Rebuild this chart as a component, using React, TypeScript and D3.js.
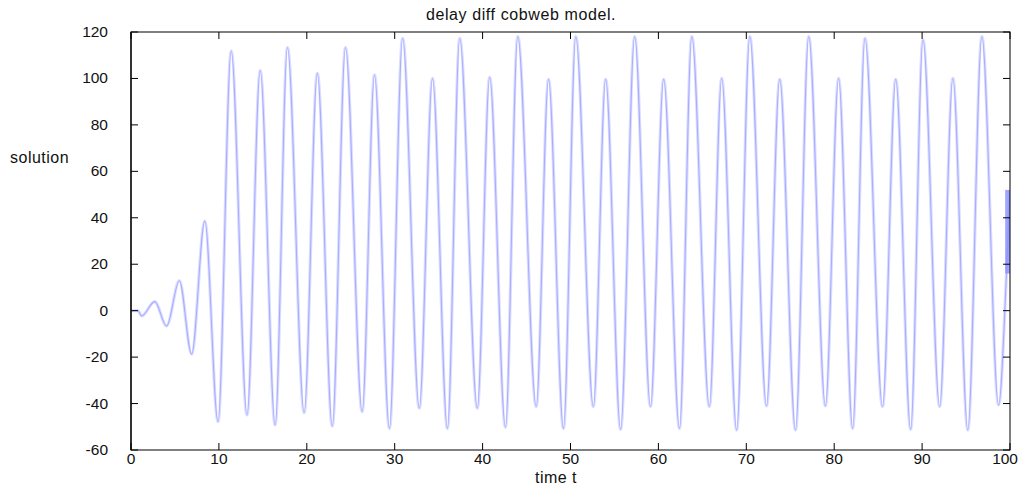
import * as d3 from "d3"

// extrema of the solution curve (time, value)
const times = [
  0, 0.8, 1.2, 2.7, 4.05, 5.5, 6.9, 8.4, 9.9, 11.4, 13.2, 14.7, 16.4, 17.8, 19.7, 21.2, 22.9, 24.4,
  26.3, 27.7, 29.4, 30.9, 32.8, 34.3, 36.0, 37.4, 39.4, 40.8, 42.6, 44.0, 46.1, 47.5, 49.2, 50.6,
  52.6, 54.0, 55.7, 57.3, 59.1, 60.6, 62.4, 63.8, 65.8, 67.2, 68.9, 70.4, 72.3, 73.8, 75.6, 77.1,
  79.0, 80.5, 82.1, 83.5, 85.5, 87.0, 88.7, 90.1, 92.0, 93.5, 95.2, 96.8, 98.7, 99.6, 100,
]
const values = [
  0, 0, -2.3, 3.9, -6.6, 12.9, -18.7, 38.6, -47.8, 111.8, -44.9, 103.4, -49.2, 113.3, -43.9, 102.2,
  -49.7, 113.3, -43.5, 101.5, -50.7, 117.3, -42, 100, -50.7, 117.3, -42, 100.5, -50.2, 118, -41.3,
  99.6, -50.7, 118, -41.3, 99.6, -51.1, 118, -41.3, 99.6, -50.7, 118, -41.3, 100, -51.4, 118, -41,
  99.6, -51.4, 118, -41, 100, -50.7, 117.3, -41.3, 99.6, -51.1, 116.6, -41.3, 100, -51.4, 118,
  -40.6, 16, 52,
]
const endBand = { t0: 99.45, t1: 100, lo: 16, hi: 52 }

const xTicks = [0, 10, 20, 30, 40, 50, 60, 70, 80, 90, 100]
const yTicks = [-60, -40, -20, 0, 20, 40, 60, 80, 100, 120]

const title = "delay diff cobweb model."
const xLabel = "time t"
const yLabel = "solution"

export default function App() {
  const W = 1019
  const H = 488
  const left = 131
  const right = 1010
  const top = 32
  const bottom = 450
  const font = "Liberation Sans, Arial, sans-serif"

  const x = d3.scaleLinear().domain([0, 100]).range([left, right])
  const y = d3.scaleLinear().domain([-60, 120]).range([bottom, top])

  const pts = times.map((t, i) => [t, values[i]] as [number, number])
  const line = d3
    .line<[number, number]>()
    .x((d) => x(d[0]))
    .y((d) => y(d[1]))
    .curve(d3.curveMonotoneX)

  const tick = 7

  return (
    <svg
      width={W}
      height={H}
      style={{ position: "absolute", left: 0, top: 0, background: "#fff" }}
      fontFamily={font}
    >
      <text x={521} y={20} fontSize={16} letterSpacing={0.6} textAnchor="middle" fill="#111">
        {title}
      </text>

      <defs>
        <clipPath id="plot">
          <rect x={left} y={top} width={right - left} height={bottom - top} />
        </clipPath>
      </defs>

      <g clipPath="url(#plot)">
        <path d={line(pts) || ""} fill="none" stroke="#dcdeff" strokeWidth={3.2} />
        <path d={line(pts) || ""} fill="none" stroke="#a9adff" strokeWidth={1.1} />
        <rect
          x={x(endBand.t0)}
          y={y(endBand.hi)}
          width={x(endBand.t1) - x(endBand.t0)}
          height={y(endBand.lo) - y(endBand.hi)}
          fill="#8a8fff"
          opacity={0.8}
        />
      </g>

      <rect x={left} y={top} width={right - left} height={bottom - top} fill="none" stroke="#000" strokeWidth={1} />
      <line x1={left} x2={left} y1={top} y2={bottom} stroke="#333" strokeWidth={2} />

      {xTicks.map((t, i) => (
        <g key={"x" + t}>
          <line x1={x(t)} x2={x(t)} y1={bottom} y2={bottom - tick} stroke="#000" />
          <line x1={x(t)} x2={x(t)} y1={top} y2={top + tick} stroke="#000" />
          <text
            x={i === xTicks.length - 1 ? W - 1 : x(t)}
            y={464}
            fontSize={15.5}
            textAnchor={i === xTicks.length - 1 ? "end" : "middle"}
            fill="#111"
          >
            {t}
          </text>
        </g>
      ))}

      {yTicks.map((v) => (
        <g key={"y" + v}>
          <line x1={left} x2={left + tick} y1={y(v)} y2={y(v)} stroke="#000" />
          <line x1={right} x2={right - tick} y1={y(v)} y2={y(v)} stroke="#000" />
          <text x={108} y={y(v) + 5} fontSize={15.5} textAnchor="end" fill="#111">
            {v}
          </text>
        </g>
      ))}

      <text x={556} y={483} fontSize={16} letterSpacing={0.5} textAnchor="middle" fill="#111">
        {xLabel}
      </text>
      <text x={10} y={163} fontSize={16} letterSpacing={0.5} textAnchor="start" fill="#111">
        {yLabel}
      </text>
    </svg>
  )
}
